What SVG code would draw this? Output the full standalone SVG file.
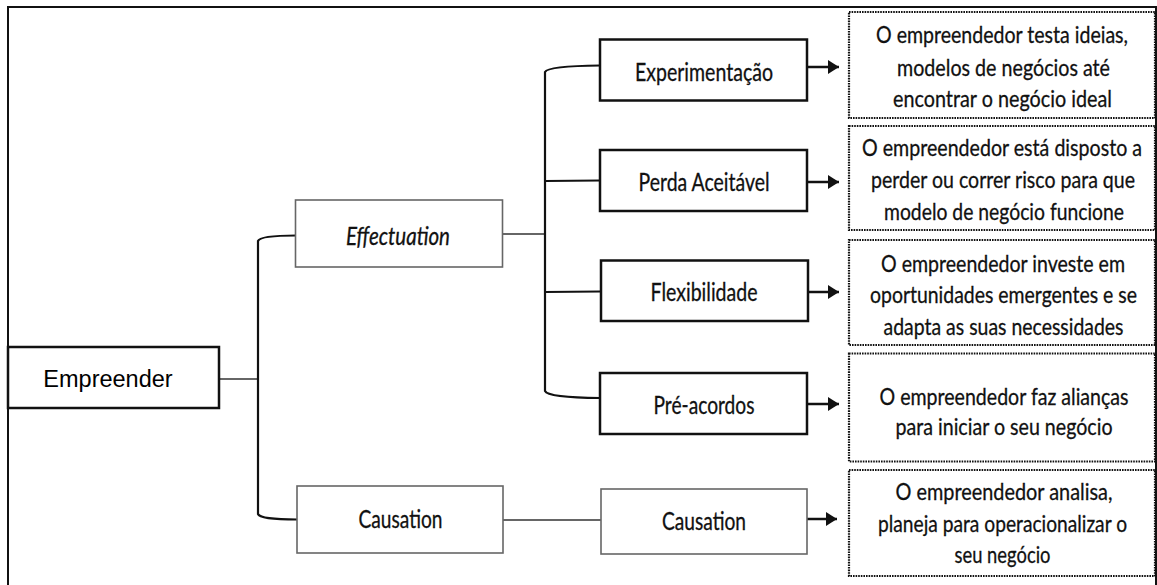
<svg xmlns="http://www.w3.org/2000/svg" width="1157" height="585" viewBox="0 0 1157 585">
<style>
.bb{fill:#fff;stroke:#111;stroke-width:2.5}
.gb{fill:#fff;stroke:#666;stroke-width:1.6}
.db{fill:#fff;stroke:#111;stroke-width:2.2;stroke-dasharray:1.6 1}
.lb{font-family:Lato,"Liberation Sans",sans-serif;font-size:20px;fill:#111;stroke:#111;stroke-width:0.25;text-anchor:middle}
.ds{font-family:Lato,"Liberation Sans",sans-serif;font-size:20px;fill:#111;stroke:#111;stroke-width:0.25;text-anchor:middle}
.ar{font-family:"Liberation Sans",Arial,sans-serif;font-size:23.5px;fill:#000;text-anchor:middle}
.cb{fill:none;stroke:#111;stroke-width:2.2}
.cg{fill:none;stroke:#666;stroke-width:1.8}
.ca{fill:none;stroke:#111;stroke-width:2.5;marker-end:url(#ah)}
</style>
<defs>
<marker id="ah" viewBox="0 0 11 14" refX="11" refY="7" markerWidth="11" markerHeight="14" markerUnits="userSpaceOnUse" orient="auto">
<path d="M0,0 L11,7 L0,14 Z" fill="#111"/>
</marker>
</defs>
<rect x="0" y="0" width="1157" height="585" fill="#fff"/>
<path d="M8,590 L8,7 L1156,7 L1156,590" fill="none" stroke="#111" stroke-width="2"/>
<g id="connectors">
<path class="cg" d="M219,379 L258,379"/>
<path class="cb" d="M296,235.5 Q260,235.5 258,241 L258,514 Q260,519.5 297,519.5"/>
<path class="cg" d="M502,234 L545,234"/>
<path class="cb" d="M600,65.5 Q548,66 545,72 L545,391 Q548,397.5 600,398"/>
<path class="cb" d="M545,181 L600,180.5"/>
<path class="cb" d="M545,292 L600,291.5"/>
<path class="cg" d="M503,520 L601,520"/>
<path class="ca" d="M807,67 L839,67"/>
<path class="ca" d="M807,182 L839,182"/>
<path class="ca" d="M808,292 L839,292"/>
<path class="ca" d="M808,404 L839,404"/>
<path class="ca" d="M807,519 L837,519"/>
</g>
<g id="empreender">
<rect class="bb" x="8" y="347" width="211" height="61"/>
<text class="ar" x="108" y="387">Empreender</text>
</g>
<g id="effectuation">
<rect class="gb" x="295.5" y="200" width="207" height="67"/>
<text class="lb" transform="translate(398,245) scale(1,1.24)" font-style="italic" textLength="104" lengthAdjust="spacingAndGlyphs">Effectuation</text>
</g>
<g id="causation1">
<rect class="gb" x="297" y="486" width="206" height="67"/>
<text class="lb" transform="translate(400.5,528) scale(1,1.24)" textLength="84" lengthAdjust="spacingAndGlyphs">Causation</text>
</g>
<g id="experimentacao">
<rect class="bb" x="600" y="39.5" width="207" height="61"/>
<text class="lb" transform="translate(704,80.5) scale(1,1.24)" textLength="138" lengthAdjust="spacingAndGlyphs">Experimentação</text>
</g>
<g id="perda">
<rect class="bb" x="600" y="150" width="207" height="61"/>
<text class="lb" transform="translate(704,190.5) scale(1,1.24)" textLength="131" lengthAdjust="spacingAndGlyphs">Perda Aceitável</text>
</g>
<g id="flexibilidade">
<rect class="bb" x="601" y="260.5" width="207" height="60.5"/>
<text class="lb" transform="translate(704,301) scale(1,1.24)" textLength="107" lengthAdjust="spacingAndGlyphs">Flexibilidade</text>
</g>
<g id="preacordos">
<rect class="bb" x="600" y="373" width="207" height="61"/>
<text class="lb" transform="translate(704,414) scale(1,1.24)" textLength="101" lengthAdjust="spacingAndGlyphs">Pré-acordos</text>
</g>
<g id="causation2">
<rect class="gb" x="601" y="489" width="206" height="65"/>
<text class="lb" transform="translate(704,530) scale(1,1.24)" textLength="84" lengthAdjust="spacingAndGlyphs">Causation</text>
</g>
<g id="desc1">
<rect class="db" x="849" y="12" width="306" height="106"/>
<text class="ds" transform="translate(1002,43) scale(1,1.2)" textLength="252" lengthAdjust="spacingAndGlyphs">O empreendedor testa ideias,</text>
<text class="ds" transform="translate(1003.5,75.7) scale(1,1.2)" textLength="213" lengthAdjust="spacingAndGlyphs">modelos de negócios até</text>
<text class="ds" transform="translate(1002.5,107) scale(1,1.2)" textLength="219" lengthAdjust="spacingAndGlyphs">encontrar o negócio ideal</text>
</g>
<g id="desc2">
<rect class="db" x="849" y="126" width="306" height="104"/>
<text class="ds" transform="translate(1002,156.3) scale(1,1.2)" textLength="280" lengthAdjust="spacingAndGlyphs">O empreendedor está disposto a</text>
<text class="ds" transform="translate(1003,188) scale(1,1.2)" textLength="264" lengthAdjust="spacingAndGlyphs">perder ou correr risco para que</text>
<text class="ds" transform="translate(1004,219.7) scale(1,1.2)" textLength="240" lengthAdjust="spacingAndGlyphs">modelo de negócio funcione</text>
</g>
<g id="desc3">
<rect class="db" x="849" y="240" width="306" height="105"/>
<text class="ds" transform="translate(1003,271.7) scale(1,1.2)" textLength="244" lengthAdjust="spacingAndGlyphs">O empreendedor investe em</text>
<text class="ds" transform="translate(1003.5,303.3) scale(1,1.2)" textLength="267" lengthAdjust="spacingAndGlyphs">oportunidades emergentes e se</text>
<text class="ds" transform="translate(1003.5,335) scale(1,1.2)" textLength="240" lengthAdjust="spacingAndGlyphs">adapta as suas necessidades</text>
</g>
<g id="desc4">
<rect class="db" x="849" y="353.5" width="306" height="108"/>
<text class="ds" transform="translate(1004,405) scale(1,1.2)" textLength="249" lengthAdjust="spacingAndGlyphs">O empreendedor faz alianças</text>
<text class="ds" transform="translate(1004,435) scale(1,1.2)" textLength="217" lengthAdjust="spacingAndGlyphs">para iniciar o seu negócio</text>
</g>
<g id="desc5">
<rect class="db" x="849" y="470" width="306" height="106"/>
<text class="ds" transform="translate(1004,500) scale(1,1.2)" textLength="217" lengthAdjust="spacingAndGlyphs">O empreendedor analisa,</text>
<text class="ds" transform="translate(1002.5,531.7) scale(1,1.2)" textLength="249" lengthAdjust="spacingAndGlyphs">planeja para operacionalizar o</text>
<text class="ds" transform="translate(1002.5,562.7) scale(1,1.2)" textLength="96" lengthAdjust="spacingAndGlyphs">seu negócio</text>
</g>
</svg>
